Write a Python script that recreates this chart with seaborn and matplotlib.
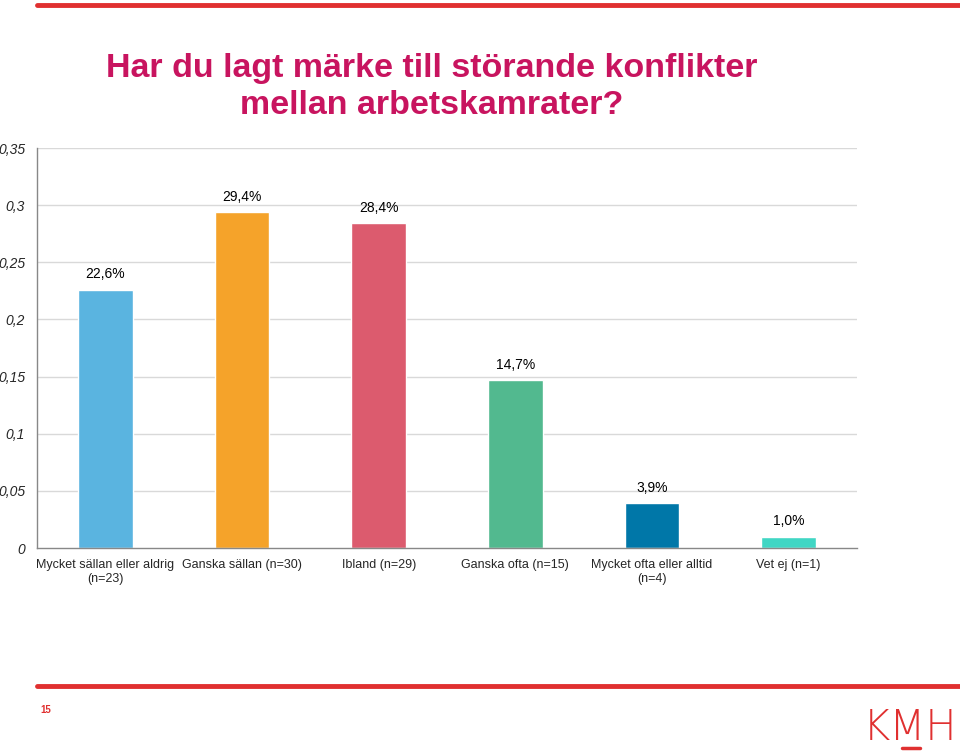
import numpy as np
import matplotlib
matplotlib.use("Agg")
import matplotlib.pyplot as plt
import seaborn as sns
from matplotlib.ticker import MultipleLocator, FixedLocator

# data
categories = ["Mycket sällan eller aldrig\n(n=23)", "Ganska sällan (n=30)", "Ibland (n=29)",
              "Ganska ofta (n=15)", "Mycket ofta eller alltid\n(n=4)", "Vet ej (n=1)"]
values = [0.226, 0.294, 0.284, 0.147, 0.039, 0.010]
value_labels = ["22,6%", "29,4%", "28,4%", "14,7%", "3,9%", "1,0%"]
colors = ["#5AB4E0", "#F5A32A", "#DC5B6E", "#52B98F", "#0077A8", "#40D6C4"]
y_ticks = [0, 0.05, 0.1, 0.15, 0.2, 0.25, 0.3, 0.35]
y_tick_labels = ["0", "0,05", "0,1", "0,15", "0,2", "0,25", "0,3", "0,35"]
title = "Har du lagt märke till störande konflikter\nmellan arbetskamrater?"

sns.set_style("white")
plt.rcParams['font.family'] = ['Liberation Sans', 'DejaVu Sans']

fig = plt.figure(figsize=(9.6, 7.53), dpi=100)
ax = fig.add_axes([37/960, 1 - 548/753, (857 - 37)/960, 400/753])

sns.barplot(x=categories, y=values, hue=categories, palette=colors, width=0.4,
            legend=False, ax=ax, saturation=1)

for i, cont in enumerate(ax.containers):
    ax.bar_label(cont, labels=[value_labels[i]], padding=6, fontsize=10, color="#000000")

ax.set_ylim(0, 0.35)
ax.set_xlim(-0.5, 5.5)
ax.set_yticks(y_ticks)
ax.set_yticklabels(y_tick_labels, fontstyle="italic", fontsize=10)
ax.yaxis.set_minor_locator(MultipleLocator(0.01))
ax.xaxis.set_minor_locator(FixedLocator(np.arange(-0.5, 6, 1)))
ax.tick_params(axis="x", which="major", length=0, pad=8, labelsize=9)
ax.tick_params(axis="x", which="minor", length=5, direction="inout", color="#888888")
ax.tick_params(axis="y", which="both", length=5, direction="inout", color="#888888", pad=6)
ax.set_xlabel("")
ax.set_ylabel("")

for y in y_ticks[1:]:
    ax.axhline(y, color="#D9D9D9", lw=1, zorder=0)

for side in ["top", "right"]:
    ax.spines[side].set_visible(False)
for side in ["left", "bottom"]:
    ax.spines[side].set_color("#888888")
    ax.spines[side].set_linewidth(1)

# title
fig.text(432/960, 1 - 87/753, title, ha="center", va="center", fontsize=24.5,
         fontweight="bold", color="#C8145F", linespacing=1.27)

# red rules
fig.add_artist(plt.Line2D([37/960, 1], [1 - 5/753, 1 - 5/753], color="#E03030", lw=3.5))
fig.add_artist(plt.Line2D([37/960, 1], [1 - 686/753, 1 - 686/753], color="#E03030", lw=3.5))

# footer
fig.text(40/960, 1 - 710/753, "15", fontsize=7, fontweight="bold", color="#E03030",
         ha="left", va="center")
fig.text(910/960, 1 - 728/753, "KMH", fontsize=30, color="#E03030", ha="center",
         va="center", family="DejaVu Sans", fontweight="light")
fig.add_artist(plt.Line2D([902/960, 920/960], [1 - 748/753, 1 - 748/753], color="#E03030", lw=2.5))

fig.savefig("out.png", dpi=100)
